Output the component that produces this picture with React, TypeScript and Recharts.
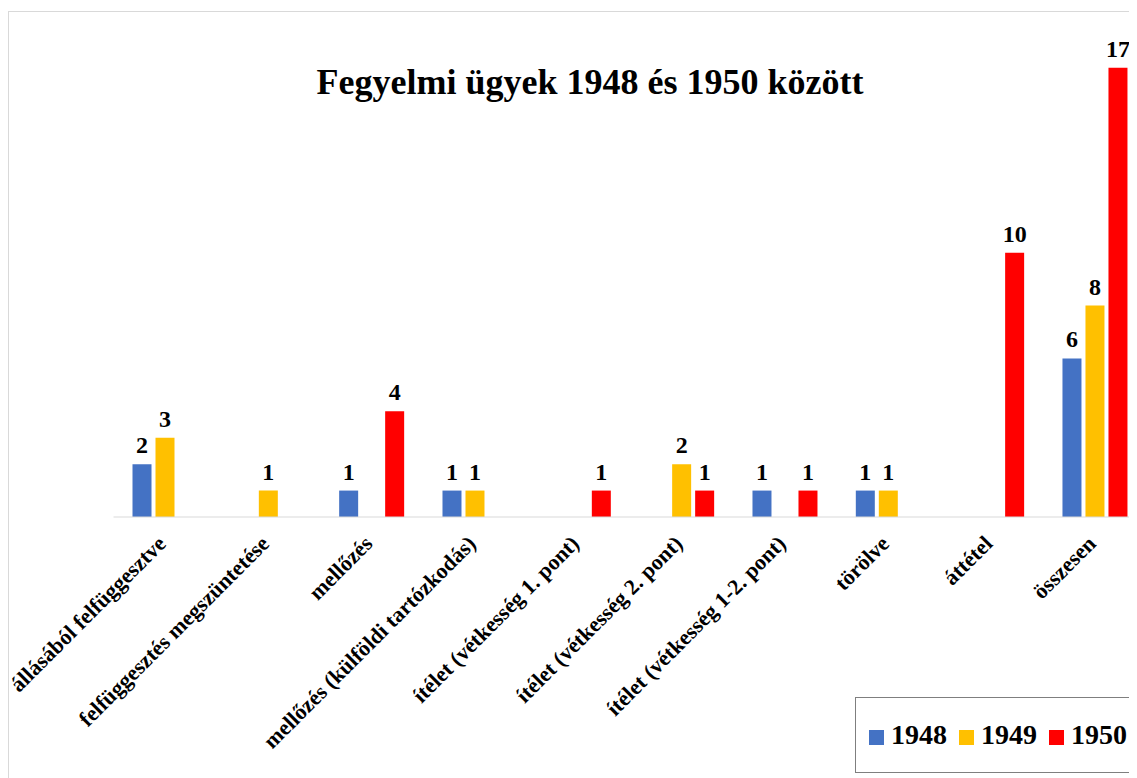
import React from "react";
import { BarChart, Bar, XAxis, YAxis, LabelList } from "recharts";

const categories = [
  "állásából felfüggesztve",
  "felfüggesztés megszüntetése",
  "mellőzés",
  "mellőzés (külföldi tartózkodás)",
  "ítélet (vétkesség 1. pont)",
  "ítélet (vétkesség 2. pont)",
  "ítélet (vétkesség 1-2. pont)",
  "törölve",
  "áttétel",
  "összesen",
];
const values1948 = [2, null, 1, 1, null, null, 1, 1, null, 6];
const values1949 = [3, 1, null, 1, null, 2, null, 1, null, 8];
const values1950 = [null, null, 4, null, 1, 1, 1, null, 10, 17];

const seriesNames = ["1948", "1949", "1950"];
const seriesColors = ["#4472C4", "#FFC000", "#FF0000"];
const title = "Fegyelmi ügyek 1948 és 1950 között";

const data = categories.map((c, i) => ({
  name: c,
  "1948": values1948[i],
  "1949": values1949[i],
  "1950": values1950[i],
}));

const FONT = "'Liberation Serif', 'Times New Roman', serif";

const Tick = (props: any) => {
  const { x, y, payload } = props;
  return (
    <g transform={`translate(${x + 2},${y + 28})`}>
      <text
        x={0}
        y={0}
        textAnchor="end"
        transform="rotate(-45)"
        fontFamily={FONT}
        fontWeight="bold"
        fontSize={22}
        fill="#000"
      >
        {payload.value}
      </text>
    </g>
  );
};

const ValueLabel = (props: any) => {
  const { x, y, width, value } = props;
  if (value === null || value === undefined) return null;
  return (
    <text
      x={x + width / 2}
      y={y - 11}
      textAnchor="middle"
      fontFamily={FONT}
      fontWeight="bold"
      fontSize={24}
      fill="#000"
    >
      {value}
    </text>
  );
};

export default function App() {
  return (
    <div style={{ position: "relative", width: 1129, height: 770, overflow: "hidden" }}>
      <div
        style={{
          position: "absolute",
          left: 0,
          top: 3,
          width: 1300,
          height: 900,
          border: "1px solid #d9d9d9",
          boxSizing: "border-box",
        }}
      />
      <div
        style={{
          position: "absolute",
          left: 0,
          width: 1164,
          top: 56,
          textAlign: "center",
          fontFamily: FONT,
          fontWeight: "bold",
          fontSize: 36,
          lineHeight: 1,
          color: "#000",
          whiteSpace: "nowrap",
        }}
      >
        {title}
      </div>
      <div style={{ position: "absolute", left: 0, top: 0 }}>
        <BarChart
          width={1150}
          height={770}
          data={data}
          margin={{ top: 59.7, right: 11.2, left: 105.5, bottom: 0 }}
          barSize={19}
          barGap={4}
        >
          <YAxis hide domain={[0, 17]} />
          <XAxis
            dataKey="name"
            interval={0}
            height={261}
            tickLine={false}
            tickSize={0}
            tickMargin={0}
            axisLine={{ stroke: "#d9d9d9" }}
            tick={<Tick />}
          />
          {seriesNames.map((s, i) => (
            <Bar key={s} dataKey={s} fill={seriesColors[i]} isAnimationActive={false}>
              <LabelList dataKey={s} content={<ValueLabel />} />
            </Bar>
          ))}
        </BarChart>
      </div>
      <div
        style={{
          position: "absolute",
          left: 847,
          top: 689,
          width: 278,
          height: 76,
          border: "1px solid #7f7f7f",
          boxSizing: "border-box",
          display: "flex",
          alignItems: "center",
          paddingLeft: 13,
          fontFamily: FONT,
          fontWeight: "bold",
          fontSize: 28,
          color: "#000",
        }}
      >
        {seriesNames.map((s, i) => (
          <div key={s} style={{ display: "flex", alignItems: "center", marginRight: 12 }}>
            <div style={{ width: 15, height: 15, background: seriesColors[i], marginRight: 7, marginTop: 4 }} />
            <span>{s}</span>
          </div>
        ))}
      </div>
    </div>
  );
}
